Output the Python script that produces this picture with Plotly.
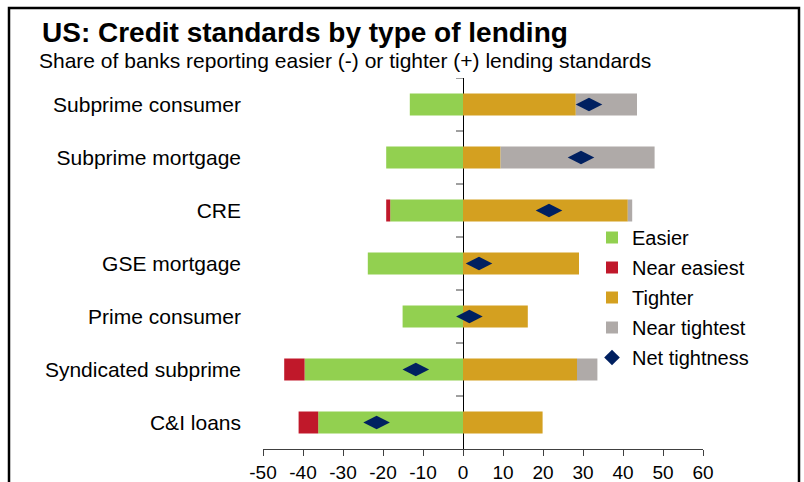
import plotly.graph_objects as go

categories = ["Subprime consumer", "Subprime mortgage", "CRE", "GSE mortgage",
              "Prime consumer", "Syndicated subprime", "C&I loans"]
easier = [-13.3, -19.2, -18.2, -23.8, -15.1, -39.6, -36.2]
near_easiest = [0, 0, -1.0, 0, 0, -5.1, -4.9]
tighter = [28.2, 9.4, 41.2, 29.0, 16.2, 28.5, 19.9]
near_tightest = [15.3, 38.5, 1.1, 0, 0, 5.1, 0]
net_tightness = [31.5, 29.5, 21.5, 4.0, 1.6, -11.8, -21.6]
x_ticks = [-50, -40, -30, -20, -10, 0, 10, 20, 30, 40, 50, 60]
x_tick_text = [str(v) for v in x_ticks]

FONT = "Liberation Sans, Arial, sans-serif"
W, H = 804, 482
ML, MR, MT, MB = 263, 101, 78, 33
PW, PH = W - ML - MR, H - MT - MB


def px(x):
    return (x - ML) / PW


def py(y):
    return (H - MB - y) / PH


fig = go.Figure()
series = [
    ("Easier", easier, "#92D050"),
    ("Near easiest", near_easiest, "#C0182A"),
    ("Tighter", tighter, "#D4A020"),
    ("Near tightest", near_tightest, "#AFAAA8"),
]
for i, (name, vals, col) in enumerate(series):
    fig.add_trace(go.Bar(
        name=name, y=categories, x=vals, orientation="h",
        marker=dict(color=col, line=dict(width=0)),
        legendgroup=name, legendrank=i,
    ))

fig.add_trace(go.Scatter(
    name="Net tightness", y=categories, x=net_tightness, mode="markers",
    marker=dict(symbol="diamond-wide", size=19, color="#002060"),
    showlegend=False,
))
fig.add_trace(go.Scatter(
    name="Net tightness", y=[None], x=[None], mode="markers",
    marker=dict(symbol="diamond", size=12, color="#002060"),
    legendgroup="Net tightness", legendrank=5,
))

# small category-boundary ticks on the zero axis
shapes = []
for i in range(len(categories)):
    shapes.append(dict(type="line", xref="x", yref="y", x0=-1.75, x1=0,
                       y0=i - 0.5, y1=i - 0.5, line=dict(color="#404040", width=1)))
# outer frame
shapes.append(dict(type="rect", xref="paper", yref="paper",
                   x0=px(9), x1=px(799), y0=py(8), y1=py(500),
                   line=dict(color="black", width=2.5), layer="above"))

n = len(categories)
fig.update_layout(
    width=W, height=H,
    margin=dict(l=ML, r=MR, t=MT, b=MB, autoexpand=False),
    paper_bgcolor="white", plot_bgcolor="white",
    barmode="relative", bargap=0.585,
    font=dict(family=FONT, color="black"),
    showlegend=True,
    legend=dict(x=px(592), y=py(218), xanchor="left", yanchor="top",
                font=dict(size=20, family=FONT), bgcolor="rgba(0,0,0,0)",
                tracegroupgap=1, itemwidth=30),
    xaxis=dict(range=[-50, 60], tickvals=x_ticks, ticktext=x_tick_text,
               ticks="outside", ticklen=6,
               tickcolor="#404040", showline=True, linecolor="#404040", linewidth=1,
               showgrid=False, zeroline=True, zerolinecolor="black", zerolinewidth=1,
               tickfont=dict(size=19, family=FONT), fixedrange=True, automargin=False),
    yaxis=dict(range=[n - 0.5, -0.5], showgrid=False, showline=False, ticks="",
               tickfont=dict(size=21, family=FONT), ticklabelstandoff=21,
               zeroline=False, fixedrange=True, automargin=False),
    shapes=shapes,
    annotations=[
        dict(text="<b>US: Credit standards by type of lending</b>", xref="paper", yref="paper",
             x=px(40), y=py(32), xanchor="left", yanchor="middle", showarrow=False,
             font=dict(size=28, family=FONT, color="black")),
        dict(text="Share of banks reporting easier (-) or tighter (+) lending standards",
             xref="paper", yref="paper", x=px(37), y=py(61), xanchor="left",
             yanchor="middle", showarrow=False,
             font=dict(size=21, family=FONT, color="black")),
    ],
)

fig.write_html("out.html")
